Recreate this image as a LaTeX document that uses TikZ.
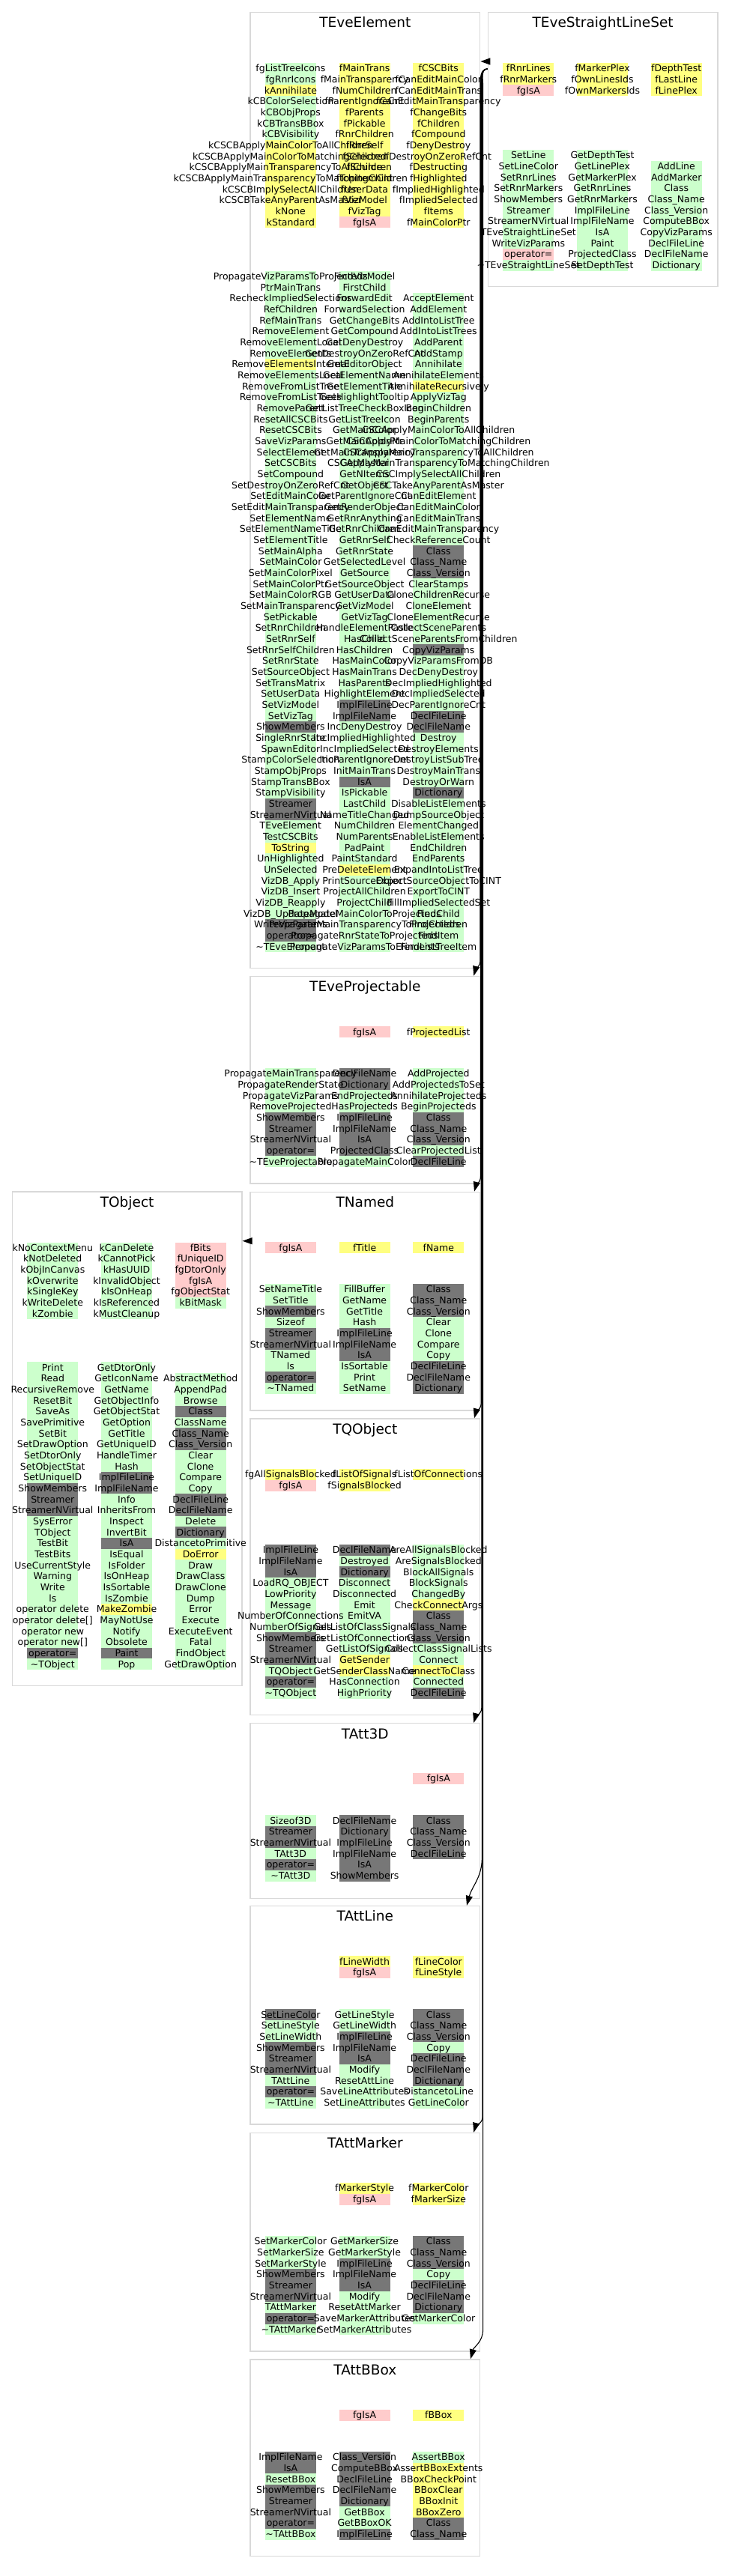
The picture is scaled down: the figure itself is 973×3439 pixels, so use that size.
\documentclass[tikz,border=0pt]{standalone}
\usepackage{fontspec}
\setmainfont{DejaVu Sans}
\usepackage{xcolor}
\usepackage{tikz}
\usetikzlibrary{arrows.meta, positioning}

\definecolor{cg}{RGB}{204,255,204}
\definecolor{cy}{RGB}{255,255,128}
\definecolor{cp}{RGB}{255,204,204}
\definecolor{cd}{RGB}{119,119,119}
\definecolor{boxgray}{RGB}{217,217,217}

% dải màu của một cột: tên, x tâm, y trên, danh sách màu/tên
\newcommand{\bandcol}[4]{%
  \foreach \band/\mm [count=\i] in {#4} {
    \fill[c\band] ({#2-34},{#3+(\i-1)*14.67}) rectangle ++(68,14.9);
  }%
}
% chữ của một cột
\newcommand{\textcol}[4]{%
  \foreach \band/\mm [count=\i] in {#4} {
    \node[member] (#1-\i) at ({#2},{#3+(\i-1)*14.67+11.7}) {\mm};
  }%
}

\newcommand{\allmembers}{%
    % TEveElement
    \membercol{elemA}{387.9}{84}{g/fgListTreeIcons,g/fgRnrIcons,y/kAnnihilate,g/kCBColorSelection,
        g/kCBObjProps,g/kCBTransBBox,g/kCBVisibility,y/kCSCBApplyMainColorToAllChildren,
        y/kCSCBApplyMainColorToMatchingChildren,y/kCSCBApplyMainTransparencyToAllChildren,
        y/kCSCBApplyMainTransparencyToMatchingChildren,y/kCSCBImplySelectAllChildren,
        y/kCSCBTakeAnyParentAsMaster,y/kNone,y/kStandard}
    \membercol{elemB}{486.6}{84}{y/fMainTrans,y/fMainTransparency,y/fNumChildren,y/fParentIgnoreCnt,
        y/fParents,y/fPickable,y/fRnrChildren,y/fRnrSelf,y/fSelected,y/fSource,y/fTopItemCnt,
        y/fUserData,y/fVizModel,y/fVizTag,p/fgIsA}
    \membercol{elemC}{585.3}{84}{y/fCSCBits,y/fCanEditMainColor,y/fCanEditMainTrans,
        y/fCanEditMainTransparency,y/fChangeBits,y/fChildren,y/fCompound,y/fDenyDestroy,
        y/fDestroyOnZeroRefCnt,y/fDestructing,y/fHighlighted,y/fImpliedHighlighted,
        y/fImpliedSelected,y/fItems,y/fMainColorPtr}
    \membercol{elemD}{387.9}{361.7}{g/PropagateVizParamsToProjecteds,g/PtrMainTrans,
        g/RecheckImpliedSelections,g/RefChildren,g/RefMainTrans,g/RemoveElement,g/RemoveElementLocal,
        g/RemoveElements,y/RemoveElementsInternal,g/RemoveElementsLocal,g/RemoveFromListTree,
        g/RemoveFromListTrees,g/RemoveParent,g/ResetAllCSCBits,g/ResetCSCBits,g/SaveVizParams,
        g/SelectElement,g/SetCSCBits,g/SetCompound,g/SetDestroyOnZeroRefCnt,g/SetEditMainColor,
        g/SetEditMainTransparency,g/SetElementName,g/SetElementNameTitle,g/SetElementTitle,
        g/SetMainAlpha,g/SetMainColor,g/SetMainColorPixel,g/SetMainColorPtr,g/SetMainColorRGB,
        g/SetMainTransparency,g/SetPickable,g/SetRnrChildren,g/SetRnrSelf,g/SetRnrSelfChildren,
        g/SetRnrState,g/SetSourceObject,g/SetTransMatrix,g/SetUserData,g/SetVizModel,g/SetVizTag,
        d/ShowMembers,g/SingleRnrState,g/SpawnEditor,g/StampColorSelection,g/StampObjProps,
        g/StampTransBBox,g/StampVisibility,d/Streamer,d/StreamerNVirtual,g/TEveElement,
        g/TestCSCBits,y/ToString,g/UnHighlighted,g/UnSelected,g/VizDB\_Apply,g/VizDB\_Insert,
        g/VizDB\_Reapply,g/VizDB\_UpdateModel,d/WriteVizParams,d/operator=,g/\textasciitilde TEveElement}
    \membercol{elemE}{486.6}{361.7}{g/FindVizModel,g/FirstChild,g/ForwardEdit,g/ForwardSelection,
        g/GetChangeBits,g/GetCompound,g/GetDenyDestroy,g/GetDestroyOnZeroRefCnt,g/GetEditorObject,
        g/GetElementName,g/GetElementTitle,g/GetHighlightTooltip,g/GetListTreeCheckBoxIcon,
        g/GetListTreeIcon,g/GetMainColor,g/GetMainColorPtr,g/GetMainTransparency,g/GetMaster,
        g/GetNItems,g/GetObject,g/GetParentIgnoreCnt,g/GetRenderObject,g/GetRnrAnything,
        g/GetRnrChildren,g/GetRnrSelf,g/GetRnrState,g/GetSelectedLevel,g/GetSource,
        g/GetSourceObject,g/GetUserData,g/GetVizModel,g/GetVizTag,g/HandleElementPaste,g/HasChild,
        g/HasChildren,g/HasMainColor,g/HasMainTrans,g/HasParents,g/HighlightElement,d/ImplFileLine,
        d/ImplFileName,g/IncDenyDestroy,g/IncImpliedHighlighted,g/IncImpliedSelected,
        g/IncParentIgnoreCnt,g/InitMainTrans,d/IsA,g/IsPickable,g/LastChild,g/NameTitleChanged,
        g/NumChildren,g/NumParents,g/PadPaint,g/PaintStandard,y/PreDeleteElement,
        g/PrintSourceObject,g/ProjectAllChildren,g/ProjectChild,g/PropagateMainColorToProjecteds,
        g/PropagateMainTransparencyToProjecteds,g/PropagateRnrStateToProjecteds,
        g/PropagateVizParamsToElements}
    \membercol{elemF}{585.3}{391.04}{g/AcceptElement,g/AddElement,g/AddIntoListTree,
        g/AddIntoListTrees,g/AddParent,g/AddStamp,g/Annihilate,g/AnnihilateElements,
        y/AnnihilateRecursively,g/ApplyVizTag,g/BeginChildren,g/BeginParents,
        g/CSCApplyMainColorToAllChildren,g/CSCApplyMainColorToMatchingChildren,
        g/CSCApplyMainTransparencyToAllChildren,g/CSCApplyMainTransparencyToMatchingChildren,
        g/CSCImplySelectAllChildren,g/CSCTakeAnyParentAsMaster,g/CanEditElement,g/CanEditMainColor,
        g/CanEditMainTrans,g/CanEditMainTransparency,g/CheckReferenceCount,d/Class,d/Class\_Name,
        d/Class\_Version,g/ClearStamps,g/CloneChildrenRecurse,g/CloneElement,g/CloneElementRecurse,
        g/CollectSceneParents,g/CollectSceneParentsFromChildren,d/CopyVizParams,
        g/CopyVizParamsFromDB,g/DecDenyDestroy,g/DecImpliedHighlighted,g/DecImpliedSelected,
        g/DecParentIgnoreCnt,d/DeclFileLine,d/DeclFileName,g/Destroy,g/DestroyElements,
        g/DestroyListSubTree,g/DestroyMainTrans,g/DestroyOrWarn,d/Dictionary,g/DisableListElements,
        g/DumpSourceObject,g/ElementChanged,g/EnableListElements,g/EndChildren,g/EndParents,
        g/ExpandIntoListTree,g/ExportSourceObjectToCINT,g/ExportToCINT,g/FillImpliedSelectedSet,
        g/FindChild,g/FindChildren,g/FindItem,g/FindListTreeItem}
    % TEveStraightLineSet
    \membercol{lsA}{705.3}{84}{y/fRnrLines,y/fRnrMarkers,p/fgIsA}
    \membercol{lsB}{804}{84}{y/fMarkerPlex,y/fOwnLinesIds,y/fOwnMarkersIds}
    \membercol{lsC}{902.7}{84}{y/fDepthTest,y/fLastLine,y/fLinePlex}
    \membercol{lsD}{705.3}{200}{g/SetLine,g/SetLineColor,g/SetRnrLines,g/SetRnrMarkers,
        g/ShowMembers,g/Streamer,g/StreamerNVirtual,g/TEveStraightLineSet,g/WriteVizParams,
        p/operator=,g/\textasciitilde TEveStraightLineSet}
    \membercol{lsE}{804}{200}{g/GetDepthTest,g/GetLinePlex,g/GetMarkerPlex,g/GetRnrLines,
        g/GetRnrMarkers,g/ImplFileLine,g/ImplFileName,g/IsA,g/Paint,g/ProjectedClass,g/SetDepthTest}
    \membercol{lsF}{902.7}{214.67}{g/AddLine,g/AddMarker,g/Class,g/Class\_Name,g/Class\_Version,
        g/ComputeBBox,g/CopyVizParams,g/DeclFileLine,g/DeclFileName,g/Dictionary}
    % TEveProjectable
    \membercol{projB}{486.6}{1370.4}{p/fgIsA}
    \membercol{projC}{585.3}{1370.4}{y/fProjectedList}
    \membercol{projD}{387.9}{1426}{g/PropagateMainTransparency,g/PropagateRenderState,
        g/PropagateVizParams,g/RemoveProjected,d/ShowMembers,d/Streamer,d/StreamerNVirtual,
        d/operator=,g/\textasciitilde TEveProjectable}
    \membercol{projE}{486.6}{1426}{d/DeclFileName,d/Dictionary,g/EndProjecteds,g/HasProjecteds,
        d/ImplFileLine,d/ImplFileName,d/IsA,d/ProjectedClass,g/PropagateMainColor}
    \membercol{projF}{585.3}{1426}{g/AddProjected,g/AddProjectedsToSet,g/AnnihilateProjecteds,
        g/BeginProjecteds,d/Class,d/Class\_Name,d/Class\_Version,g/ClearProjectedList,d/DeclFileLine}
    % TObject
    \membercol{objA}{70.3}{1658.5}{g/kNoContextMenu,g/kNotDeleted,g/kObjInCanvas,g/kOverwrite,
        g/kSingleKey,g/kWriteDelete,g/kZombie}
    \membercol{objB}{169}{1658.5}{g/kCanDelete,g/kCannotPick,g/kHasUUID,g/kInvalidObject,
        g/kIsOnHeap,g/kIsReferenced,g/kMustCleanup}
    \membercol{objC}{267.7}{1658.5}{p/fBits,p/fUniqueID,p/fgDtorOnly,p/fgIsA,p/fgObjectStat,g/kBitMask}
    \membercol{objD}{70.3}{1818.3}{g/Print,g/Read,g/RecursiveRemove,g/ResetBit,g/SaveAs,
        g/SavePrimitive,g/SetBit,g/SetDrawOption,g/SetDtorOnly,g/SetObjectStat,g/SetUniqueID,
        d/ShowMembers,d/Streamer,d/StreamerNVirtual,g/SysError,g/TObject,g/TestBit,g/TestBits,
        g/UseCurrentStyle,g/Warning,g/Write,g/ls,g/operator delete,g/operator delete[],
        g/operator new,g/operator new[],d/operator=,g/\textasciitilde TObject}
    \membercol{objE}{169}{1818.3}{g/GetDtorOnly,g/GetIconName,g/GetName,g/GetObjectInfo,
        g/GetObjectStat,g/GetOption,g/GetTitle,g/GetUniqueID,g/HandleTimer,g/Hash,d/ImplFileLine,
        d/ImplFileName,g/Info,g/InheritsFrom,g/Inspect,g/InvertBit,d/IsA,g/IsEqual,g/IsFolder,
        g/IsOnHeap,g/IsSortable,g/IsZombie,y/MakeZombie,g/MayNotUse,g/Notify,g/Obsolete,d/Paint,g/Pop}
    \membercol{objF}{267.7}{1832.97}{g/AbstractMethod,g/AppendPad,g/Browse,d/Class,g/ClassName,
        d/Class\_Name,d/Class\_Version,g/Clear,g/Clone,g/Compare,g/Copy,d/DeclFileLine,
        d/DeclFileName,g/Delete,d/Dictionary,g/DistancetoPrimitive,y/DoError,g/Draw,g/DrawClass,
        g/DrawClone,g/Dump,g/Error,g/Execute,g/ExecuteEvent,g/Fatal,g/FindObject,g/GetDrawOption}
    % TNamed
    \membercol{namA}{387.9}{1658.3}{p/fgIsA}
    \membercol{namB}{486.6}{1658.3}{y/fTitle}
    \membercol{namC}{585.3}{1658.3}{y/fName}
    \membercol{namD}{387.9}{1714}{g/SetNameTitle,g/SetTitle,d/ShowMembers,g/Sizeof,d/Streamer,
        d/StreamerNVirtual,g/TNamed,g/ls,d/operator=,g/\textasciitilde TNamed}
    \membercol{namE}{486.6}{1714}{g/FillBuffer,g/GetName,g/GetTitle,g/Hash,d/ImplFileLine,
        d/ImplFileName,d/IsA,g/IsSortable,g/Print,g/SetName}
    \membercol{namF}{585.3}{1714}{d/Class,d/Class\_Name,d/Class\_Version,g/Clear,g/Clone,g/Compare,
        g/Copy,d/DeclFileLine,d/DeclFileName,d/Dictionary}
    % TQObject
    \membercol{qobA}{387.9}{1961}{y/fgAllSignalsBlocked,p/fgIsA}
    \membercol{qobB}{486.6}{1961}{y/fListOfSignals,y/fSignalsBlocked}
    \membercol{qobC}{585.3}{1961}{y/fListOfConnections}
    \membercol{qobD}{387.9}{2062}{d/ImplFileLine,d/ImplFileName,d/IsA,g/LoadRQ\_OBJECT,g/LowPriority,
        g/Message,g/NumberOfConnections,g/NumberOfSignals,d/ShowMembers,d/Streamer,
        d/StreamerNVirtual,g/TQObject,d/operator=,g/\textasciitilde TQObject}
    \membercol{qobE}{486.6}{2062}{d/DeclFileName,g/Destroyed,d/Dictionary,g/Disconnect,
        g/Disconnected,g/Emit,g/EmitVA,g/GetListOfClassSignals,g/GetListOfConnections,
        g/GetListOfSignals,y/GetSender,y/GetSenderClassName,g/HasConnection,g/HighPriority}
    \membercol{qobF}{585.3}{2062}{g/AreAllSignalsBlocked,g/AreSignalsBlocked,g/BlockAllSignals,
        g/BlockSignals,g/ChangedBy,y/CheckConnectArgs,d/Class,d/Class\_Name,d/Class\_Version,
        g/CollectClassSignalLists,g/Connect,y/ConnectToClass,g/Connected,d/DeclFileLine}
    % TAtt3D
    \membercol{a3dC}{585.3}{2367}{p/fgIsA}
    \membercol{a3dD}{387.9}{2423.3}{g/Sizeof3D,d/Streamer,d/StreamerNVirtual,g/TAtt3D,d/operator=,
        g/\textasciitilde TAtt3D}
    \membercol{a3dE}{486.6}{2423.3}{d/DeclFileName,d/Dictionary,d/ImplFileLine,d/ImplFileName,
        d/IsA,d/ShowMembers}
    \membercol{a3dF}{585.3}{2423.3}{d/Class,d/Class\_Name,d/Class\_Version,d/DeclFileLine}
    % TAttLine
    \membercol{alnB}{486.6}{2611.3}{y/fLineWidth,p/fgIsA}
    \membercol{alnC}{585.3}{2611.3}{y/fLineColor,y/fLineStyle}
    \membercol{alnD}{387.9}{2682.3}{d/SetLineColor,g/SetLineStyle,g/SetLineWidth,d/ShowMembers,
        d/Streamer,d/StreamerNVirtual,g/TAttLine,d/operator=,g/\textasciitilde TAttLine}
    \membercol{alnE}{486.6}{2682.3}{g/GetLineStyle,g/GetLineWidth,d/ImplFileLine,d/ImplFileName,
        d/IsA,g/Modify,g/ResetAttLine,g/SaveLineAttributes,g/SetLineAttributes}
    \membercol{alnF}{585.3}{2682.3}{d/Class,d/Class\_Name,d/Class\_Version,g/Copy,d/DeclFileLine,
        d/DeclFileName,d/Dictionary,g/DistancetoLine,g/GetLineColor}
    % TAttMarker
    \membercol{amkB}{486.6}{2914}{y/fMarkerStyle,p/fgIsA}
    \membercol{amkC}{585.3}{2914}{y/fMarkerColor,y/fMarkerSize}
    \membercol{amkD}{387.9}{2985.2}{g/SetMarkerColor,g/SetMarkerSize,g/SetMarkerStyle,
        d/ShowMembers,d/Streamer,d/StreamerNVirtual,g/TAttMarker,d/operator=,g/\textasciitilde TAttMarker}
    \membercol{amkE}{486.6}{2985.2}{g/GetMarkerSize,g/GetMarkerStyle,d/ImplFileLine,d/ImplFileName,
        d/IsA,g/Modify,g/ResetAttMarker,g/SaveMarkerAttributes,g/SetMarkerAttributes}
    \membercol{amkF}{585.3}{2985.2}{d/Class,d/Class\_Name,d/Class\_Version,g/Copy,d/DeclFileLine,
        d/DeclFileName,d/Dictionary,g/GetMarkerColor}
    % TAttBBox
    \membercol{abbB}{486.6}{3217.2}{p/fgIsA}
    \membercol{abbC}{585.3}{3217.2}{y/fBBox}
    \membercol{abbD}{387.9}{3273}{d/ImplFileName,d/IsA,g/ResetBBox,d/ShowMembers,d/Streamer,
        d/StreamerNVirtual,d/operator=,g/\textasciitilde TAttBBox}
    \membercol{abbE}{486.6}{3273}{d/Class\_Version,d/ComputeBBox,d/DeclFileLine,d/DeclFileName,
        d/Dictionary,g/GetBBox,g/GetBBoxOK,d/ImplFileLine}
    \membercol{abbF}{585.3}{3273}{g/AssertBBox,y/AssertBBoxExtents,y/BBoxCheckPoint,y/BBoxClear,
        y/BBoxInit,y/BBoxZero,d/Class,d/Class\_Name}%
}

\begin{document}
\begin{tikzpicture}[x=1pt, y=-1pt, >={Triangle[length=13pt,width=9pt]},
    member/.style={anchor=base, inner sep=0pt, font=\fontsize{12.5}{15}\selectfont},
    clsbox/.style={draw=boxgray, line width=1.3pt, minimum width=306.6pt, anchor=north west, inner sep=0pt},
    clstitle/.style={anchor=base, inner sep=0pt, font=\fontsize{18.5}{22}\selectfont},
    inh/.style={->, line width=1.1pt}]
    \useasboundingbox (0,0) rectangle (973,3439);
    \fill[white] (0,0) rectangle (973,3439);

    % Dải màu (vẽ trước)
    \let\membercol\bandcol
    \allmembers

    % Các khung lớp
    \node[clsbox, minimum height=1276pt] (element) at (333.4,15.7) {};
    \node[clsbox, minimum height=366pt] (lineset) at (650.7,16) {};
    \node[clsbox, minimum height=276.6pt] (proj) at (333.4,1302.7) {};
    \node[clsbox, minimum height=659.6pt] (tobject) at (15.7,1590.4) {};
    \node[clsbox, minimum height=291.6pt] (named) at (333.4,1590.7) {};
    \node[clsbox, minimum height=395.7pt] (qobject) at (333.4,1893.3) {};
    \node[clsbox, minimum height=233.5pt] (att3d) at (333.4,2300) {};
    \node[clsbox, minimum height=291.6pt] (attline) at (333.4,2543.8) {};
    \node[clsbox, minimum height=291.5pt] (attmarker) at (333.4,2846.8) {};
    \node[clsbox, minimum height=262.6pt] (attbbox) at (333.4,3149.2) {};

    % Tên lớp
    \foreach \b/\name in {element/TEveElement,lineset/TEveStraightLineSet,proj/TEveProjectable,
        tobject/TObject,named/TNamed,qobject/TQObject,att3d/TAtt3D,attline/TAttLine,
        attmarker/TAttMarker,attbbox/TAttBBox} {
        \path (\b.north) ++(0,21) node[clstitle] (\b-title) {\name};
    }

    % Tên thành viên
    \let\membercol\textcol
    \allmembers

    % Mũi tên kế thừa
    \coordinate (lsout) at (651,82);
    \coordinate (lsdown) at (650.7,92);
    \coordinate (namedout) at (333.4,1656.7);
    \draw[inh] (lsout) -- (element.east |- lsout);
    \draw[inh] (namedout) -- (tobject.east |- namedout);
    \foreach \tgt/\tx/\by/\dx in {proj/641/1282/9pt,named/641.6/1570/8.3pt,qobject/642.2/1873/8.3pt,
        att3d/642.8/2280/9pt,attline/643.4/2480/18.3pt,attmarker/644/2826/9pt,attbbox/644.6/3110/13.3pt} {
        \draw[inh] (lsdown) to[out=180,in=90] (\tx,115) -- (\tx,\by)
            to[out=-90,in=75] ([xshift=-\dx]\tgt.north east);
    }

\end{tikzpicture}
\end{document}
